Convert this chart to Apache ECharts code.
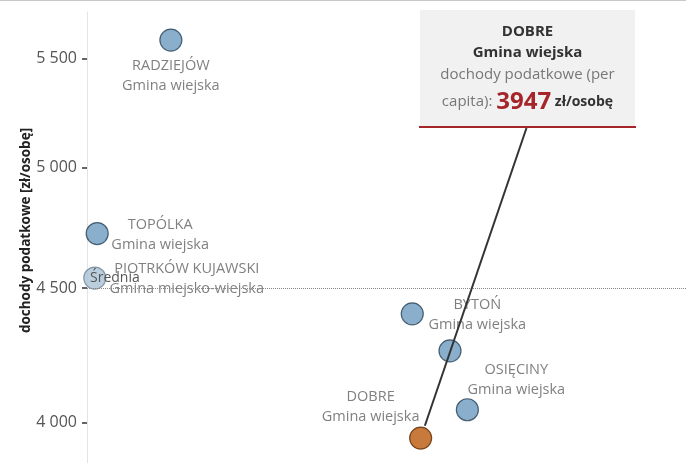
<!DOCTYPE html>
<html><head><meta charset="utf-8">
<script src="https://cdn.jsdelivr.net/npm/echarts@6/dist/echarts.min.js"></script>
<style>html,body{margin:0;padding:0;background:#fff}#c{width:686px;height:463px}</style>
</head><body><div id="c"></div>
<script>
// ---- data ----
const names = ['RADZIEJÓW', 'TOPÓLKA', 'PIOTRKÓW KUJAWSKI', 'BYTOŃ', '', 'OSIĘCINY', 'DOBRE'];
const gminaTypes = ['Gmina wiejska', 'Gmina wiejska', 'Gmina miejsko-wiejska', 'Gmina wiejska', '', 'Gmina wiejska', 'Gmina wiejska'];
const xValues = [14.0, 1.7, 1.3, 54.3, 60.6, 63.5, 55.7];
const incomeValues = [5590, 4720, 4540, 4400, 4260, 4046, 3947];
const yTickValues = [4000, 4500, 5000, 5500];
const highlightName = 'DOBRE';
const averageLabel = 'Średnia';
const axisTitle = 'dochody podatkowe [zł/osobę]';
const tooltipMetric = 'dochody podatkowe (per';
const tooltipMetric2 = 'capita): ';
const unitText = ' zł/osobę';

// ---- styles (label offsets per point) ----
const labelOffsets = [[0, 36], [63, 1], [92, 1], [65, 1], [0, 0], [49, -30], [-50, -31]];
const FONT = '"Open Sans", "Noto Sans", sans-serif';

const chart = echarts.init(document.getElementById('c'), null, {renderer: 'canvas'});

function fmt(v) {
  if (v < 10) v = Math.pow(10, v);
  v = Math.round(v);
  const s = String(v);
  return s.length > 3 ? s.slice(0, s.length - 3) + ' ' + s.slice(-3) : s;
}

const data = incomeValues.map((v, i) => {
  const hl = names[i] === highlightName;
  return {
    value: [xValues[i], v],
    name: names[i],
    itemStyle: hl ? {color: '#b9590b', borderColor: '#5b2c05'} :
      (i === 2 ? {color: '#a9c2d6', borderColor: '#6f8496'} : {}),
    label: {
      show: !!names[i],
      position: 'inside',
      offset: labelOffsets[i],
      align: 'center',
      verticalAlign: 'middle',
      formatter: names[i] + '\n' + gminaTypes[i],
      color: '#606060',
      fontSize: 14.5,
      lineHeight: 20,
      fontFamily: FONT
    }
  };
});

chart.setOption({
  animation: false,
  grid: {left: 87, right: 0, top: 12, bottom: 0, containLabel: false, outerBoundsMode: 'none'},
  xAxis: {type: 'value', min: 0, max: 100, show: false},
  yAxis: {
    type: 'log', logBase: 10, min: 3862, max: 5729,
    name: axisTitle, nameLocation: 'middle', nameGap: 54, nameMoveOverlap: false,
    nameTextStyle: {fontWeight: 'bold', fontSize: 13.5, color: '#222', fontFamily: FONT, padding: [0, 0, 0, 14]},
    axisLine: {show: true, lineStyle: {color: '#e4e4e4', width: 1}},
    axisTick: {show: true, customValues: yTickValues, length: 5, lineStyle: {color: '#333', width: 1.5}},
    axisLabel: {customValues: yTickValues, formatter: fmt, margin: 10, color: '#555', fontSize: 16, fontFamily: FONT},
    splitLine: {show: false}
  },
  series: [{
    type: 'scatter',
    symbolSize: 22,
    itemStyle: {color: '#6b9bc1', borderColor: '#2b4256', borderWidth: 1.2},
    data: data,
    markLine: {
      silent: true, symbol: 'none',
      data: [{type: 'average', valueIndex: 1, name: averageLabel}],
      lineStyle: {type: 'dotted', color: '#888', width: 1},
      label: {position: 'insideStartTop', formatter: averageLabel, color: '#555', fontSize: 14, fontFamily: FONT, distance: 3}
    }
  }]
});

// tooltip annotation linked to highlighted point
const hi = names.indexOf(highlightName);
const p = chart.convertToPixel({seriesIndex: 0}, [xValues[hi], incomeValues[hi]]);
const boxL = 420, boxT = 10, boxW = 215, boxH = 117;
const cx = boxL + boxW / 2;
const sx = cx - 1, sy = boxT + boxH + 1;
const dx = p[0] - sx, dy = p[1] - sy, len = Math.sqrt(dx * dx + dy * dy);
const ex = p[0] - dx / len * 13, ey = p[1] - dy / len * 13;

chart.setOption({
  graphic: [
    {type: 'line', shape: {x1: 0, y1: 0.5, x2: 686, y2: 0.5}, style: {stroke: '#c8c8c8', lineWidth: 1}},
    {type: 'rect', shape: {x: boxL, y: boxT, width: boxW, height: boxH}, style: {fill: '#f1f1f1'}},
    {type: 'line', shape: {x1: boxL - 1, y1: boxT + boxH, x2: boxL + boxW + 1, y2: boxT + boxH}, style: {stroke: '#a6252b', lineWidth: 2}},
    {type: 'line', shape: {x1: sx, y1: sy, x2: ex, y2: ey}, style: {stroke: '#333', lineWidth: 2}, z: 100},
    {type: 'text', x: cx, y: 32, style: {text: names[hi], align: 'center', verticalAlign: 'middle', font: 'bold 15px ' + FONT, fill: '#333'}},
    {type: 'text', x: cx, y: 53, style: {text: gminaTypes[hi], align: 'center', verticalAlign: 'middle', font: 'bold 15px ' + FONT, fill: '#333'}},
    {type: 'text', x: cx, y: 75, style: {text: tooltipMetric, align: 'center', verticalAlign: 'middle', font: '15px ' + FONT, fill: '#777'}},
    {type: 'text', x: cx, y: 102, style: {
      text: '{a|' + tooltipMetric2 + '}{b|' + incomeValues[hi] + '}{c|' + unitText + '}',
      align: 'center', verticalAlign: 'middle',
      rich: {
        a: {font: '15px ' + FONT, fill: '#777', color: '#777'},
        b: {font: 'bold 24px ' + FONT, fill: '#a6252b', color: '#a6252b'},
        c: {font: 'bold 14px ' + FONT, fill: '#333', color: '#333'}
      }
    }}
  ]
});
</script></body></html>
